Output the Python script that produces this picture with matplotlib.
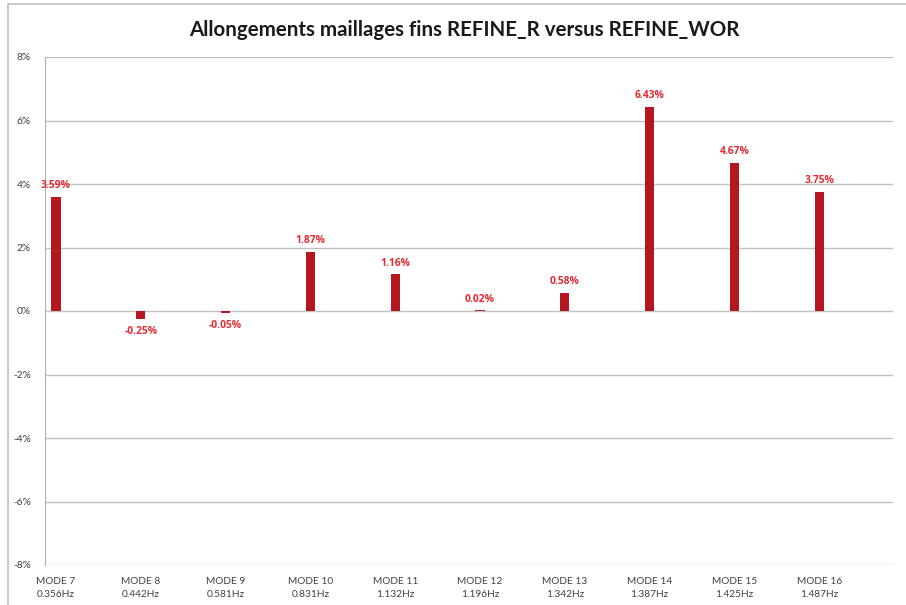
import numpy as np
import matplotlib.pyplot as plt
from matplotlib.patches import Rectangle
from matplotlib.ticker import FuncFormatter

modes = ["MODE 7", "MODE 8", "MODE 9", "MODE 10", "MODE 11",
         "MODE 12", "MODE 13", "MODE 14", "MODE 15", "MODE 16"]
freqs = ["0.356Hz", "0.442Hz", "0.581Hz", "0.831Hz", "1.132Hz",
         "1.196Hz", "1.342Hz", "1.387Hz", "1.425Hz", "1.487Hz"]
allong = [3.59, -0.25, -0.05, 1.87, 1.16, 0.02, 0.58, 6.43, 4.67, 3.75]

plt.rcParams['font.family'] = ['Lato', 'DejaVu Sans']

fig = plt.figure(figsize=(9.06, 6.05), dpi=100)
ax = fig.add_axes([45/906, 1-565/605, (893-45)/906, (565-57)/605])

# outer chart frame
fig.patches.append(Rectangle((8/906, -0.1), 1.2, 1-4/605+0.1, transform=fig.transFigure,
                             fill=False, edgecolor="#bfbfbf", lw=1.2))

x = np.arange(len(modes))
ax.bar(x, allong, width=0.11, color="#b5171e", zorder=3)

for xi, v in zip(x, allong):
    if v >= 0:
        ax.annotate(f"{v:.2f}%", (xi, v), xytext=(0, 4), textcoords="offset points",
                    ha="center", va="bottom", color="#e52a32", fontsize=7.4,
                    fontweight="bold", family="Open Sans")
    else:
        ax.annotate(f"{v:.2f}%", (xi, v), xytext=(0, -5), textcoords="offset points",
                    ha="center", va="top", color="#e52a32", fontsize=7.4,
                    fontweight="bold", family="Open Sans")

ax.set_ylim(-8, 8)
ax.set_yticks(np.arange(-8, 9, 2))
ax.yaxis.set_major_formatter(FuncFormatter(lambda v, p: f"{v:.0f}%"))
ax.set_xlim(-0.13, 9.87)
ax.set_xticks(x)
ax.set_xticklabels([f"{m}\n{f}" for m, f in zip(modes, freqs)], linespacing=1.5)
ax.tick_params(axis="both", length=0, labelsize=7.3, colors="#404040")
ax.tick_params(axis="x", pad=9)
ax.tick_params(axis="y", pad=10)
ax.grid(axis="y", color="#c0c0c0", lw=1, zorder=0)
for s in ["top", "right", "bottom"]:
    ax.spines[s].set_visible(False)
ax.spines["left"].set_color("#b0b0b0")

fig.text(464/906, 1-30/605, "Allongements maillages fins REFINE_R versus REFINE_WOR",
         ha="center", va="center", fontsize=14.8, fontweight="bold", color="#1a1a1a")

fig.savefig("out.png", dpi=100)
